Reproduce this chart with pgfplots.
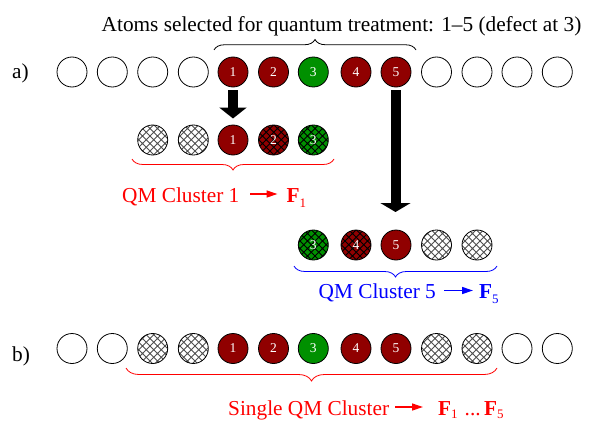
\documentclass[border=0pt]{standalone}
\usepackage{pgfplots}
\pgfplotsset{compat=1.18}
\usepackage{fontspec}
\setmainfont{Liberation Serif}
\usetikzlibrary{decorations.pathreplacing,arrows.meta,patterns}
\definecolor{dred}{RGB}{144,0,0}
\definecolor{dgreen}{RGB}{0,144,0}
\definecolor{hgray}{RGB}{80,80,80}
\newcommand{\lbl}{\fontsize{21.3bp}{25bp}\selectfont}
\newcommand{\num}{\fontsize{13.5bp}{15bp}\selectfont}
\newcommand{\sub}[1]{\raisebox{-5bp}{\fontsize{13bp}{15bp}\selectfont #1}}
\newcommand{\subb}[1]{\raisebox{-3.5bp}{\fontsize{13bp}{15bp}\selectfont #1}}

\pgfdeclarepatternformonly{dcross}{\pgfqpoint{-1bp}{-1bp}}{\pgfqpoint{8.5bp}{8.5bp}}{\pgfqpoint{7.5bp}{7.5bp}}{%
  \pgfsetlinewidth{0.8bp}%
  \pgfpathmoveto{\pgfqpoint{-0.5bp}{-0.5bp}}\pgfpathlineto{\pgfqpoint{8bp}{8bp}}%
  \pgfpathmoveto{\pgfqpoint{-0.5bp}{8bp}}\pgfpathlineto{\pgfqpoint{8bp}{-0.5bp}}%
  \pgfusepath{stroke}}

\pgfdeclareplotmark{hatchg}{%
  \pgfpathcircle{\pgfpointorigin}{\pgfplotmarksize}\pgfusepathqfill
  \pgfscope\pgfsetfillpattern{dcross}{hgray}%
  \pgfpathcircle{\pgfpointorigin}{\pgfplotmarksize}\pgfusepath{fill}\endpgfscope
  \pgfpathcircle{\pgfpointorigin}{\pgfplotmarksize}\pgfusepathqstroke}
\pgfdeclareplotmark{hatchk}{%
  \pgfpathcircle{\pgfpointorigin}{\pgfplotmarksize}\pgfusepathqfill
  \pgfscope\pgfsetfillpattern{dcross}{black}%
  \pgfpathcircle{\pgfpointorigin}{\pgfplotmarksize}\pgfusepath{fill}\endpgfscope
  \pgfpathcircle{\pgfpointorigin}{\pgfplotmarksize}\pgfusepathqstroke}

\begin{document}
\begin{tikzpicture}
\useasboundingbox (0,0) rectangle (589bp,421bp);
\begin{axis}[at={(0,0)}, anchor=south west, scale only axis,
  width=589bp, height=421bp, xmin=0, xmax=589, ymin=0, ymax=421,
  y dir=reverse, hide axis, clip=false, font=\lbl,
  atom/.style={only marks, mark size=15bp,
    mark options={draw=black, line width=0.8bp, fill=#1}},
  numbered/.style={point meta=explicit symbolic, nodes near coords,
    every node near coord/.append style={anchor=center, text=white, font=\num, inner sep=0pt}}]

% plain white atoms
\addplot[atom=white, mark=*] coordinates {
 (72,72) (112.3,72) (152.7,72) (193.3,72) (436.5,72) (477,72) (517,72) (557.3,72)
 (72,348.5) (112.3,348.5) (517,348.5) (557.3,348.5)};
% hatched white atoms
\addplot[atom=white, mark=hatchg] coordinates {
 (152.7,140) (193.3,140) (436.5,245) (477,245)
 (152.7,348.5) (193.3,348.5) (436.5,348.5) (477,348.5)};
% plain dark red atoms
\addplot[atom=dred, mark=*, numbered] coordinates {
 (233,72) [1] (273.5,72) [2] (356,72) [4] (396,72) [5]
 (233,140) [1] (396,245) [5]
 (233,348.5) [1] (273.5,348.5) [2] (356,348.5) [4] (396,348.5) [5]};
% plain green atoms
\addplot[atom=dgreen, mark=*, numbered] coordinates {
 (313.3,72) [3] (313.3,348.5) [3]};
% hatched dark red atoms
\addplot[atom=dred, mark=hatchk, numbered] coordinates {
 (273.5,140) [2] (356,245) [4]};
% hatched green atoms
\addplot[atom=dgreen, mark=hatchk, numbered] coordinates {
 (313.3,140) [3] (313.3,245) [3]};

% big arrows
\addplot[black, line width=10bp, -{Triangle[width=27bp,length=11bp]}] coordinates {(233,90) (233,118.5)};
\addplot[black, line width=10bp, -{Triangle[width=30bp,length=9bp]}] coordinates {(395.5,90) (395.5,212)};

% label arrows
\addplot[red, line width=1.3bp, -{Triangle[width=7bp,length=11bp]}] coordinates {(250,194) (277.5,194)};
\addplot[blue, line width=1.3bp, -{Triangle[width=7bp,length=11bp]}] coordinates {(444,290.5) (473,290.5)};
\addplot[red, line width=1.3bp, -{Triangle[width=7bp,length=11bp]}] coordinates {(395,407) (423,407)};

% braces
\draw[black, line width=0.8bp, decorate, decoration={brace, amplitude=10.5bp}]
  (axis cs:214,50) -- (axis cs:416,50);
\draw[red, line width=0.8bp, decorate, decoration={brace, amplitude=11bp}]
  (axis cs:334,159) -- (axis cs:132,159);
\draw[blue, line width=0.8bp, decorate, decoration={brace, amplitude=11bp}]
  (axis cs:497,266) -- (axis cs:294,266);
\draw[red, line width=0.8bp, decorate, decoration={brace, amplitude=13bp}]
  (axis cs:497,368) -- (axis cs:126,368);

% texts
\node[anchor=base west, inner sep=0pt] at (axis cs:101.5,31.5) {Atoms selected for quantum treatment: 1\textendash5 (defect at 3)};
\node[anchor=base west, inner sep=0pt] at (axis cs:12,78) {a)};
\node[anchor=base west, inner sep=0pt] at (axis cs:12,361.5) {b)};

\node[anchor=base west, inner sep=0pt, text=red] at (axis cs:122,202) {QM Cluster 1};
\node[anchor=base west, inner sep=0pt, text=red] at (axis cs:286.5,202) {\textbf{F}\sub{1}};

\node[anchor=base west, inner sep=0pt, text=blue] at (axis cs:318.5,298.5) {QM Cluster 5};
\node[anchor=base west, inner sep=0pt, text=blue] at (axis cs:479,298.5) {\textbf{F}\sub{5}};

\node[anchor=base west, inner sep=0pt, text=red] at (axis cs:228,415) {Single QM Cluster};
\node[anchor=base west, inner sep=0pt, text=red] at (axis cs:438,415) {\textbf{F}\subb{1}};
\node[anchor=base west, inner sep=0pt, text=red] at (axis cs:464.5,415) {...};
\node[anchor=base west, inner sep=0pt, text=red] at (axis cs:484,415) {\textbf{F}\subb{5}};
\end{axis}
\end{tikzpicture}
\end{document}
